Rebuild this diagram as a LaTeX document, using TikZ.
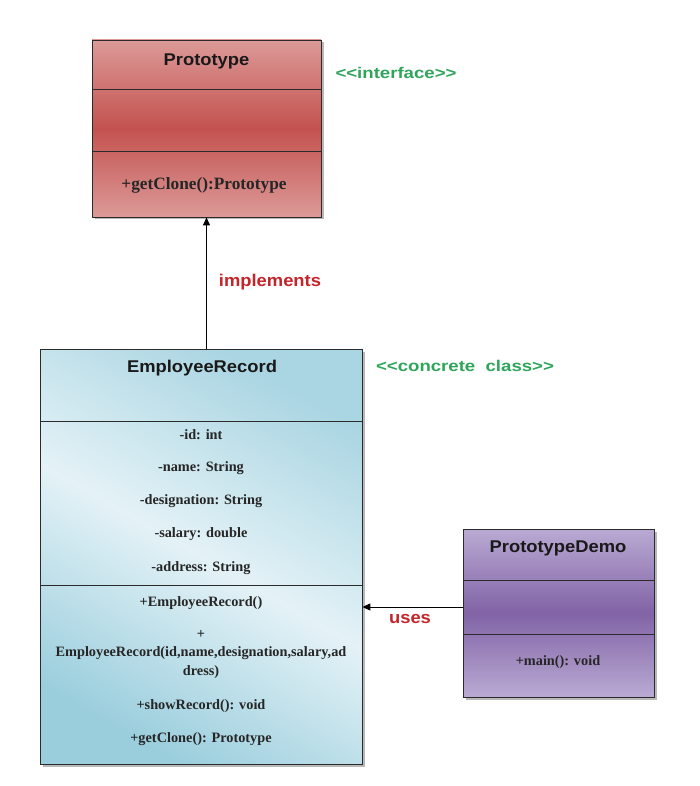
\documentclass[tikz,border=0pt]{standalone}
\usepackage{fontspec}
\setmainfont{Liberation Serif}
\newfontfamily\titlef[FakeStretch=1.08]{Liberation Sans}
\newfontfamily\greenf[FakeStretch=1.2]{Liberation Sans}
\usetikzlibrary{arrows.meta}
\definecolor{lineC}{HTML}{2B2B2B}
\definecolor{redLt}{HTML}{DC9A98}
\definecolor{redDk}{HTML}{C3524F}
\definecolor{blueLt}{HTML}{E4F2F7}
\definecolor{blueDk}{HTML}{9BCEDD}
\definecolor{purLt}{HTML}{BAAAD3}
\definecolor{purDk}{HTML}{8163A6}
\definecolor{greenC}{HTML}{2FA55B}
\definecolor{redTxt}{HTML}{C3252B}
\tikzset{
  classbox/.style={draw=lineC, line width=0.8pt, inner sep=0pt},
  shadowbox/.style={fill=black, opacity=0.28},
  protoshade/.style={left color=redLt, right color=redLt, middle color=redDk, shading angle=0},
  empshade/.style={left color=blueDk!85, right color=blueDk, middle color=blueLt, shading angle=-30},
  demoshade/.style={left color=purLt, right color=purLt, middle color=purDk, shading angle=0},
  div/.style={draw=lineC, line width=0.8pt},
  ttl/.style={font=\titlef\fontsize{17}{20}\selectfont\bfseries, text=black!90},
  mem/.style={font=\fontsize{14.3}{17}\selectfont\bfseries, text=black!85},
  memP/.style={font=\fontsize{17.3}{20}\selectfont\bfseries, text=black!85},
  ster/.style={font=\greenf\fontsize{15.5}{18}\selectfont\bfseries, text=greenC},
  lbl/.style={font=\titlef\fontsize{17}{20}\selectfont\bfseries, text=redTxt},
  arr/.style={draw=black, line width=1pt, -{Triangle[length=8pt,width=7pt]}}
}
\begin{document}
\begin{tikzpicture}[x=1pt,y=-1pt]
\useasboundingbox (0,0) rectangle (700,786);
\fill[white] (0,0) rectangle (700,786);
% shadows and fills
\fill[shadowbox] (94.5,42.5) rectangle (323.5,219.5);
\shade[protoshade] (92,40) rectangle (321,217);
\fill[shadowbox] (42.5,351.5) rectangle (364.5,766.5);
\shade[empshade] (40,349) rectangle (362,764);
\fill[shadowbox] (465.5,531.5) rectangle (656.5,699.5);
\shade[demoshade] (463,529) rectangle (654,697);
% Prototype
\node[classbox, minimum width=229pt, minimum height=177pt] (proto) at (206.5,128.5) {};
\draw[div] (92,89) -- (321,89);
\draw[div] (92,151) -- (321,151);
\node[ttl] (protoT) at (206.5,61) {Prototype};
\node[memP] (protoM) at (204,185) {+getClone():Prototype};
\node[ster] (iface) at (396,73) {<{}<interface>{}>};
% EmployeeRecord
\node[classbox, minimum width=322pt, minimum height=415pt] (emp) at (201,556.5) {};
\draw[div] (40,421) -- (362,421);
\draw[div] (40,585) -- (362,585);
\node[ttl] (empT) at (202,368) {EmployeeRecord};
\node[mem] (a1) at (201,435) {-id: int};
\node[mem] (a2) at (201,468) {-name: String};
\node[mem] (a3) at (201,501) {-designation: String};
\node[mem] (a4) at (201,534) {-salary: double};
\node[mem] (a5) at (201,568) {-address: String};
\node[mem] (m1) at (201,603) {+EmployeeRecord()};
\node[mem] (m2) at (201,634) {+};
\node[mem] (m3) at (201,653) {EmployeeRecord(id,name,designation,salary,ad};
\node[mem] (m4) at (201,672) {dress)};
\node[mem] (m5) at (201,706) {+showRecord(): void};
\node[mem] (m6) at (201,739) {+getClone(): Prototype};
\node[ster] (conc) at (465,366) {<{}<concrete\ \ class>{}>};
% PrototypeDemo
\node[classbox, minimum width=191pt, minimum height=168pt] (demo) at (558.5,613) {};
\draw[div] (463,580) -- (654,580);
\draw[div] (463,634) -- (654,634);
\node[ttl] (demoT) at (558,548) {PrototypeDemo};
\node[mem] (demoM) at (558,662) {+main(): void};
% connectors
\draw[arr] (proto.south |- emp.north) -- (proto.south);
\node[lbl] (impl) at (270,282) {implements};
\draw[arr] ([yshift=6pt]demo.west) coordinate (u0) -- (emp.east |- u0);
\node[lbl] (uses) at (410,619) {uses};
\end{tikzpicture}
\end{document}
